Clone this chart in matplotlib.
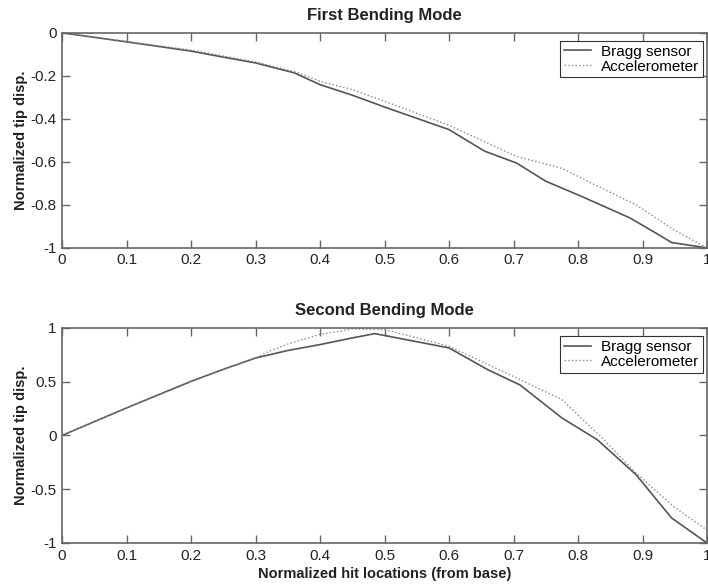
import matplotlib
matplotlib.use("Agg")
import matplotlib.pyplot as plt

plt.rcParams['font.family'] = ['Liberation Sans', 'DejaVu Sans']

# first bending mode
x1_bragg = [0.0, 0.1, 0.2, 0.25, 0.3, 0.36, 0.4, 0.45, 0.5, 0.6, 0.655, 0.705, 0.75, 0.805, 0.88, 0.92, 0.945, 1.0]
y1_bragg = [0.0, -0.042, -0.085, -0.113, -0.14, -0.186, -0.241, -0.29, -0.345, -0.45, -0.55, -0.606, -0.69, -0.76, -0.86, -0.93, -0.975, -1.0]
x1_acc = [0.0, 0.1, 0.2, 0.3, 0.36, 0.4, 0.45, 0.5, 0.6, 0.66, 0.705, 0.775, 0.815, 0.89, 0.948, 1.0]
y1_acc = [0.0, -0.04, -0.08, -0.135, -0.18, -0.225, -0.264, -0.318, -0.43, -0.513, -0.575, -0.63, -0.69, -0.8, -0.915, -1.0]

# second bending mode
x2_bragg = [0.0, 0.1, 0.2, 0.25, 0.3, 0.35, 0.4, 0.45, 0.485, 0.6, 0.66, 0.71, 0.775, 0.83, 0.89, 0.945, 1.0]
y2_bragg = [0.0, 0.256, 0.503, 0.615, 0.72, 0.79, 0.845, 0.907, 0.947, 0.814, 0.612, 0.47, 0.163, -0.04, -0.365, -0.767, -1.0]
x2_acc = [0.0, 0.1, 0.2, 0.25, 0.3, 0.32, 0.35, 0.4, 0.45, 0.5, 0.6, 0.71, 0.775, 0.835, 0.89, 0.948, 1.0]
y2_acc = [0.0, 0.255, 0.5, 0.612, 0.72, 0.78, 0.85, 0.94, 0.99, 0.985, 0.83, 0.52, 0.333, -0.008, -0.35, -0.66, -0.88]

xticks = [0, 0.1, 0.2, 0.3, 0.4, 0.5, 0.6, 0.7, 0.8, 0.9, 1]
xticklabels = ['0', '0.1', '0.2', '0.3', '0.4', '0.5', '0.6', '0.7', '0.8', '0.9', '1']

fig = plt.figure(figsize=(7.08, 5.86), dpi=100)
ax1 = fig.add_axes([0.0876, 0.577, 0.911, 0.367])
ax2 = fig.add_axes([0.0876, 0.0734, 0.911, 0.367])

def style(ax, title, yticks, yticklabels):
  ax.set_xlim(0, 1)
  ax.set_xticks(xticks)
  ax.set_xticklabels(xticklabels)
  ax.set_yticks(yticks)
  ax.set_yticklabels(yticklabels)
  ax.tick_params(direction='in', top=True, right=True, length=6, width=1,
                 color='#666666', labelsize=11, pad=4, labelcolor='#222222')
  for s in ax.spines.values():
    s.set_color('#666666')
    s.set_linewidth(1.2)
  ax.set_title(title, fontsize=12, fontweight='bold', color='#222222', pad=9)
  ax.set_ylabel('Normalized tip disp.', fontsize=10.5, fontweight='bold', color='#222222', labelpad=2)
  leg = ax.legend(loc='upper right', bbox_to_anchor=(0.994, 0.962), fontsize=11,
                  handlelength=1.8, borderpad=0.25, labelspacing=0.05,
                  fancybox=False, framealpha=1, borderaxespad=0,
                  handletextpad=0.65)
  leg.get_frame().set_edgecolor('#333333')
  leg.get_frame().set_linewidth(0.8)

ax1.plot(x1_bragg, y1_bragg, '-', color='#555555', lw=1.2, label='Bragg sensor')
ax1.plot(x1_acc, y1_acc, ':', color='#888888', lw=1.0, label='Accelerometer')
ax1.set_ylim(-1, 0)
style(ax1, 'First Bending Mode', [-1, -0.8, -0.6, -0.4, -0.2, 0], ['-1', '-0.8', '-0.6', '-0.4', '-0.2', '0'])

ax2.plot(x2_bragg, y2_bragg, '-', color='#555555', lw=1.2, label='Bragg sensor')
ax2.plot(x2_acc, y2_acc, ':', color='#888888', lw=1.0, label='Accelerometer')
ax2.set_ylim(-1, 1)
style(ax2, 'Second Bending Mode', [-1, -0.5, 0, 0.5, 1], ['-1', '-0.5', '0', '0.5', '1'])
ax2.set_xlabel('Normalized hit locations (from base)', fontsize=10.5, fontweight='bold', color='#222222', labelpad=3)

fig.savefig('out.png', dpi=100)
